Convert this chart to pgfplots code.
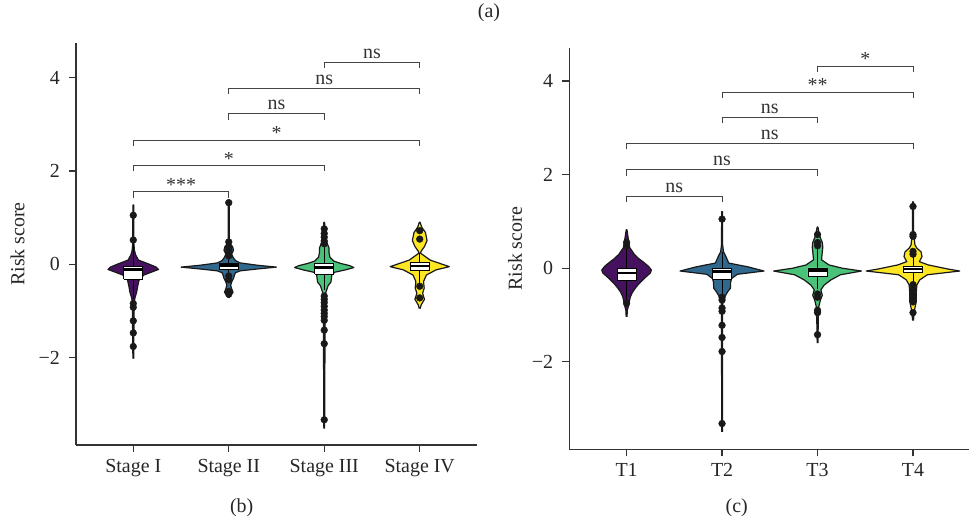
\documentclass[border=0pt]{standalone}
\usepackage{fontspec}
\setmainfont{Liberation Serif}
\usepackage{pgfplots}
\usepackage{pgfplotstable}
\pgfplotsset{compat=1.18}

\definecolor{vpurple}{HTML}{46125F}
\definecolor{vblue}{HTML}{31688E}
\definecolor{vgreen}{HTML}{4AC279}
\definecolor{vyellow}{HTML}{FDE725}
\definecolor{axgray}{HTML}{333333}
\definecolor{brgray}{HTML}{444444}

% violin outlines: y and signed half width (category units), right side up then left side down
\pgfplotstableread[row sep=\\]{
y w\\
-2.02 0.004\\ -0.80 0.010\\ -0.70 0.020\\ -0.60 0.035\\ -0.48 0.045\\ -0.34 0.060\\ -0.23 0.110\\ -0.16 0.200\\ -0.11 0.265\\ -0.06 0.240\\ 0.00 0.170\\ 0.09 0.055\\ 0.20 0.025\\ 0.30 0.012\\ 0.45 0.006\\ 1.27 0.004\\
1.27 -0.004\\ 0.45 -0.006\\ 0.30 -0.012\\ 0.20 -0.025\\ 0.09 -0.055\\ 0.00 -0.170\\ -0.06 -0.240\\ -0.11 -0.265\\ -0.16 -0.200\\ -0.23 -0.110\\ -0.34 -0.060\\ -0.48 -0.045\\ -0.60 -0.035\\ -0.70 -0.020\\ -0.80 -0.010\\ -2.02 -0.004\\
}\vSI
\pgfplotstableread[row sep=\\]{
y w\\
-0.72 0.004\\ -0.66 0.020\\ -0.60 0.045\\ -0.52 0.030\\ -0.45 0.020\\ -0.38 0.030\\ -0.30 0.050\\ -0.23 0.060\\ -0.18 0.070\\ -0.14 0.120\\ -0.10 0.300\\ -0.06 0.500\\ -0.02 0.300\\ 0.03 0.120\\ 0.08 0.070\\ 0.15 0.045\\ 0.22 0.030\\ 0.30 0.050\\ 0.38 0.040\\ 0.45 0.010\\ 0.55 0.006\\ 1.38 0.004\\
1.38 -0.004\\ 0.55 -0.006\\ 0.45 -0.010\\ 0.38 -0.040\\ 0.30 -0.050\\ 0.22 -0.030\\ 0.15 -0.045\\ 0.08 -0.070\\ 0.03 -0.120\\ -0.02 -0.300\\ -0.06 -0.500\\ -0.10 -0.300\\ -0.14 -0.120\\ -0.18 -0.070\\ -0.23 -0.060\\ -0.30 -0.050\\ -0.38 -0.030\\ -0.45 -0.020\\ -0.52 -0.030\\ -0.60 -0.045\\ -0.66 -0.020\\ -0.72 -0.004\\
}\vSII
\pgfplotstableread[row sep=\\]{
y w\\
-3.52 0.004\\ -0.65 0.010\\ -0.55 0.025\\ -0.46 0.040\\ -0.38 0.070\\ -0.30 0.075\\ -0.22 0.080\\ -0.17 0.110\\ -0.12 0.220\\ -0.07 0.310\\ -0.03 0.270\\ 0.02 0.170\\ 0.07 0.100\\ 0.15 0.060\\ 0.25 0.050\\ 0.35 0.050\\ 0.45 0.030\\ 0.60 0.008\\ 0.90 0.004\\
0.90 -0.004\\ 0.60 -0.008\\ 0.45 -0.030\\ 0.35 -0.050\\ 0.25 -0.050\\ 0.15 -0.060\\ 0.07 -0.100\\ 0.02 -0.170\\ -0.03 -0.270\\ -0.07 -0.310\\ -0.12 -0.220\\ -0.17 -0.110\\ -0.22 -0.080\\ -0.30 -0.075\\ -0.38 -0.070\\ -0.46 -0.040\\ -0.55 -0.025\\ -0.65 -0.010\\ -3.52 -0.004\\
}\vSIII
\pgfplotstableread[row sep=\\]{
y w\\
-0.95 0.004\\ -0.87 0.015\\ -0.75 0.050\\ -0.62 0.030\\ -0.51 0.047\\ -0.37 0.040\\ -0.23 0.070\\ -0.12 0.170\\ -0.05 0.310\\ 0.02 0.210\\ 0.09 0.110\\ 0.20 0.035\\ 0.24 0.008\\ 0.28 0.015\\ 0.38 0.050\\ 0.51 0.077\\ 0.68 0.060\\ 0.80 0.020\\ 0.90 0.004\\
0.90 -0.004\\ 0.80 -0.020\\ 0.68 -0.060\\ 0.51 -0.077\\ 0.38 -0.050\\ 0.28 -0.015\\ 0.24 -0.008\\ 0.20 -0.035\\ 0.09 -0.110\\ 0.02 -0.210\\ -0.05 -0.310\\ -0.12 -0.170\\ -0.23 -0.070\\ -0.37 -0.040\\ -0.51 -0.047\\ -0.62 -0.030\\ -0.75 -0.050\\ -0.87 -0.015\\ -0.95 -0.004\\
}\vSIV
\pgfplotstableread[row sep=\\]{
y w\\
-1.04 0.004\\ -0.90 0.008\\ -0.80 0.020\\ -0.70 0.030\\ -0.61 0.040\\ -0.52 0.060\\ -0.43 0.090\\ -0.33 0.130\\ -0.21 0.190\\ -0.10 0.250\\ -0.04 0.260\\ 0.04 0.230\\ 0.14 0.170\\ 0.21 0.125\\ 0.30 0.080\\ 0.39 0.050\\ 0.45 0.030\\ 0.60 0.020\\ 0.82 0.004\\
0.82 -0.004\\ 0.60 -0.020\\ 0.45 -0.030\\ 0.39 -0.050\\ 0.30 -0.080\\ 0.21 -0.125\\ 0.14 -0.170\\ 0.04 -0.230\\ -0.04 -0.260\\ -0.10 -0.250\\ -0.21 -0.190\\ -0.33 -0.130\\ -0.43 -0.090\\ -0.52 -0.060\\ -0.61 -0.040\\ -0.70 -0.030\\ -0.80 -0.020\\ -0.90 -0.008\\ -1.04 -0.004\\
}\vTI
\pgfplotstableread[row sep=\\]{
y w\\
-3.50 0.004\\ -0.80 0.006\\ -0.65 0.015\\ -0.57 0.040\\ -0.50 0.060\\ -0.43 0.087\\ -0.30 0.090\\ -0.22 0.100\\ -0.13 0.160\\ -0.06 0.440\\ 0.03 0.270\\ 0.11 0.070\\ 0.25 0.040\\ 0.35 0.015\\ 0.50 0.006\\ 1.21 0.004\\
1.21 -0.004\\ 0.50 -0.006\\ 0.35 -0.015\\ 0.25 -0.040\\ 0.11 -0.070\\ 0.03 -0.270\\ -0.06 -0.440\\ -0.13 -0.160\\ -0.22 -0.100\\ -0.30 -0.090\\ -0.43 -0.087\\ -0.50 -0.060\\ -0.57 -0.040\\ -0.65 -0.015\\ -0.80 -0.006\\ -3.50 -0.004\\
}\vTII
\pgfplotstableread[row sep=\\]{
y w\\
-1.60 0.004\\ -0.85 0.010\\ -0.68 0.030\\ -0.58 0.050\\ -0.46 0.035\\ -0.36 0.070\\ -0.25 0.140\\ -0.14 0.240\\ -0.06 0.460\\ 0.00 0.260\\ 0.07 0.120\\ 0.18 0.042\\ 0.35 0.050\\ 0.45 0.055\\ 0.55 0.050\\ 0.70 0.020\\ 0.88 0.004\\
0.88 -0.004\\ 0.70 -0.020\\ 0.55 -0.050\\ 0.45 -0.055\\ 0.35 -0.050\\ 0.18 -0.042\\ 0.07 -0.120\\ 0.00 -0.260\\ -0.06 -0.460\\ -0.14 -0.240\\ -0.25 -0.140\\ -0.36 -0.070\\ -0.46 -0.035\\ -0.58 -0.050\\ -0.68 -0.030\\ -0.85 -0.010\\ -1.60 -0.004\\
}\vTIII
\pgfplotstableread[row sep=\\]{
y w\\
-1.12 0.004\\ -0.90 0.015\\ -0.70 0.035\\ -0.50 0.035\\ -0.36 0.040\\ -0.25 0.070\\ -0.14 0.150\\ -0.06 0.490\\ -0.015 0.360\\ 0.07 0.160\\ 0.14 0.066\\ 0.25 0.094\\ 0.35 0.084\\ 0.43 0.040\\ 0.50 0.020\\ 0.80 0.006\\ 1.42 0.004\\
1.42 -0.004\\ 0.80 -0.006\\ 0.50 -0.020\\ 0.43 -0.040\\ 0.35 -0.084\\ 0.25 -0.094\\ 0.14 -0.066\\ 0.07 -0.160\\ -0.015 -0.360\\ -0.06 -0.490\\ -0.14 -0.150\\ -0.25 -0.070\\ -0.36 -0.040\\ -0.50 -0.035\\ -0.70 -0.035\\ -0.90 -0.015\\ -1.12 -0.004\\
}\vTIV

% violin: table, center, colour
\newcommand{\violin}[3]{%
  \addplot[fill=#3, draw=black!90, line width=1.2bp, line join=round, forget plot] table[x expr={#2+\thisrow{w}}, y=y] {#1};
}
% whisker: center, low, high
\newcommand{\whisk}[3]{%
  \addplot[black, line width=1bp, forget plot] coordinates {(#1,#2) (#1,#3)};
}
% box: left, right, q1, median, q3
\newcommand{\qbox}[5]{%
  \addplot[fill=white, draw=black, line width=0.9bp, forget plot] coordinates {(#1,#3) (#2,#3) (#2,#5) (#1,#5) (#1,#3)};
  \addplot[black, line width=2.6bp, forget plot] coordinates {(#1,#4) (#2,#4)};
}
% bracket: x1, x2, y, leg end
\newcommand{\bracket}[4]{%
  \addplot[brgray, line width=1bp, forget plot] coordinates {(#1,#4) (#1,#3) (#2,#3) (#2,#4)};
}

\pgfplotsset{
  panel/.style={
    scale only axis, width=401bp,
    xmin=0.4, xmax=4.6, ymin=-3.87, ymax=4.74,
    axis x line*=bottom, axis y line*=left,
    axis line style={-, line width=1.3bp, axgray},
    xtick={1,2,3,4},
    ytick={-2,0,2,4}, yticklabels={−2,0,2,4},
    tick align=outside, major tick length=7bp,
    tick style={line width=1.2bp, axgray},
    xticklabel style={anchor=base, inner sep=0pt, yshift=-20bp, text=black!85},
    yticklabel style={anchor=east, inner sep=0pt, xshift=-9bp, text=black!85},
    ylabel={Risk score},
    ylabel style={anchor=center, text=black!85},
  },
}
\tikzset{lab/.style={anchor=base, inner sep=0pt, text=black!80}}

\begin{document}
\begin{tikzpicture}[font=\fontsize{20}{24}\selectfont]
\path[use as bounding box] (0,0) rectangle (969bp,527bp);

\begin{axis}[panel, at={(76bp,82bp)}, anchor=south west, height=402bp,
  xticklabels={Stage I, Stage II, Stage III, Stage IV},
  ylabel style={at={(axis description cs:-0.146,0.5)}}]
  \violin{\vSI}{1}{vpurple}
  \violin{\vSII}{2}{vblue}
  \violin{\vSIII}{3}{vgreen}
  \violin{\vSIV}{4}{vyellow}
  \whisk{1}{-0.75}{0.45}
  \whisk{2}{-0.20}{0.15}
  \whisk{3}{-0.55}{0.40}
  \whisk{4}{-0.40}{0.25}
  \addplot[only marks, mark=*, mark size=3.4bp, black!90, forget plot] coordinates {
    (1,1.05) (1,0.52) (1,-0.84) (1,-0.92) (1,-1.21) (1,-1.47) (1,-1.76)
    (2,1.32) (2,0.48) (2,0.36) (2,0.30) (2,0.24) (2,0.18) (2,-0.25) (2,-0.33) (2,-0.58) (2,-0.64)
    (3,0.76) (3,0.66) (3,0.58) (3,0.50) (3,0.44) (3,-0.68) (3,-0.75) (3,-0.82) (3,-0.90) (3,-0.98) (3,-1.05) (3,-1.12) (3,-1.20) (3,-1.41) (3,-1.70) (3,-3.33)
    (4,0.72) (4,0.54) (4,-0.47) (4,-0.72)
  };
  \qbox{0.9}{1.1}{-0.32}{-0.11}{-0.05}
  \qbox{1.9}{2.1}{-0.10}{-0.03}{0.02}
  \qbox{2.9}{3.1}{-0.21}{-0.065}{0.01}
  \qbox{3.9}{4.1}{-0.13}{-0.035}{0.045}
  \bracket{1}{2}{1.55}{1.43}
  \bracket{1}{3}{2.11}{1.99}
  \bracket{1}{4}{2.66}{2.54}
  \bracket{2}{3}{3.22}{3.10}
  \bracket{2}{4}{3.77}{3.65}
  \bracket{3}{4}{4.33}{4.21}
  \node[lab, yshift=0.5bp] at (axis cs:1.5,1.55) {***};
  \node[lab, yshift=0.5bp] at (axis cs:2,2.11) {*};
  \node[lab, yshift=0.5bp] at (axis cs:2.5,2.66) {*};
  \node[lab, yshift=4bp] at (axis cs:2.5,3.22) {ns};
  \node[lab, yshift=4bp] at (axis cs:3,3.77) {ns};
  \node[lab, yshift=4bp] at (axis cs:3.5,4.33) {ns};
\end{axis}

\begin{axis}[panel, at={(569.3bp,77.7bp)}, anchor=south west, height=401bp, ymax=4.70,
  xticklabels={T1, T2, T3, T4},
  ylabel style={at={(axis description cs:-0.135,0.5)}}]
  \violin{\vTI}{1}{vpurple}
  \violin{\vTII}{2}{vblue}
  \violin{\vTIII}{3}{vgreen}
  \violin{\vTIV}{4}{vyellow}
  \whisk{1}{-0.70}{0.45}
  \whisk{2}{-0.55}{0.35}
  \whisk{3}{-0.45}{0.40}
  \whisk{4}{-0.30}{0.30}
  \addplot[only marks, mark=*, mark size=3.4bp, black!90, forget plot] coordinates {
    (1,0.55) (1,0.48) (1,-0.75)
    (2,1.05) (2,-0.62) (2,-0.68) (2,-0.85) (2,-0.92) (2,-1.22) (2,-1.48) (2,-1.78) (2,-3.32)
    (3,0.72) (3,0.55) (3,0.48) (3,-0.55) (3,-0.62) (3,-0.90) (3,-0.95) (3,-1.42)
    (4,1.32) (4,0.72) (4,0.68) (4,0.36) (4,0.30) (4,-0.35) (4,-0.45) (4,-0.55) (4,-0.65) (4,-0.72) (4,-0.95)
  };
  \qbox{0.9}{1.1}{-0.27}{-0.10}{0.0}
  \qbox{1.9}{2.1}{-0.23}{-0.07}{-0.005}
  \qbox{2.9}{3.1}{-0.185}{-0.05}{0.005}
  \qbox{3.9}{4.1}{-0.095}{-0.015}{0.045}
  \bracket{1}{2}{1.53}{1.41}
  \bracket{1}{3}{2.10}{1.98}
  \bracket{1}{4}{2.66}{2.54}
  \bracket{2}{3}{3.22}{3.10}
  \bracket{2}{4}{3.76}{3.64}
  \bracket{3}{4}{4.32}{4.20}
  \node[lab, yshift=4bp] at (axis cs:1.5,1.53) {ns};
  \node[lab, yshift=4bp] at (axis cs:2,2.10) {ns};
  \node[lab, yshift=4bp] at (axis cs:2.5,2.66) {ns};
  \node[lab, yshift=4bp] at (axis cs:2.5,3.22) {ns};
  \node[lab, yshift=0.5bp] at (axis cs:3,3.76) {**};
  \node[lab, yshift=0.5bp] at (axis cs:3.5,4.32) {*};
\end{axis}

\node[text=black!85] at (489bp,514bp) {(a)};
\node[text=black!85] at (241.7bp,19bp) {(b)};
\node[text=black!85] at (736.7bp,19bp) {(c)};
\end{tikzpicture}
\end{document}
